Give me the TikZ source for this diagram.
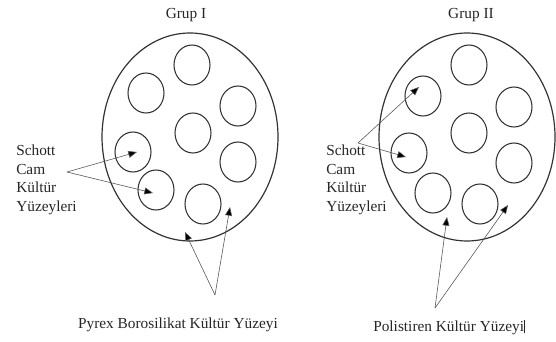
\documentclass[tikz,border=0pt]{standalone}
\usepackage{fontspec}
\setmainfont{Liberation Serif}
\usetikzlibrary{shapes.geometric,arrows.meta}
\begin{document}
\begin{tikzpicture}[x=0.75pt,y=-0.75pt,
  dish/.style={ellipse,draw=black!80,line width=0.9pt,inner sep=0pt,outer sep=0pt,minimum width=132pt,minimum height=156pt},
  well/.style={ellipse,draw=black!80,line width=0.8pt,inner sep=0pt,outer sep=0pt,minimum width=27pt,minimum height=30pt},
  lbl/.style={font=\fontsize{11.5}{14}\selectfont,text=black!85,inner sep=0pt},
  ptr/.style={draw=black!65,line width=0.45pt,-{Triangle[length=6.5pt,width=5.2pt,fill=black]}},
]
\useasboundingbox (0,0) rectangle (556,342);
% Group I
\node[lbl] (t1) at (186,15) {Grup I};
\node[dish] (d1) at (190,137) {};
\node[well] (a1) at (192,65) {};
\node[well] (a2) at (146,93) {};
\node[well] (a3) at (238,106) {};
\node[well] (a4) at (193,133) {};
\node[well] (a5) at (133,152) {};
\node[well] (a6) at (238,162) {};
\node[well] (a7) at (156,190) {};
\node[well] (a8) at (203,204) {};
\node[lbl,anchor=west,align=left] (s1) at (16,180) {Schott\\Cam\\Kültür\\Yüzeyleri};
\coordinate (p1) at (67,172);
\coordinate (p1a) at (137,152);
\coordinate (p1b) at (153,193);
\draw[ptr] (p1) -- (p1a);
\draw[ptr] (p1) -- (p1b);
\node[lbl] (y1) at (178,325) {Pyrex Borosilikat Kültür Yüzeyi};
\coordinate (q1) at (215,295);
\coordinate (q1a) at (185,232);
\coordinate (q1b) at (230,207);
\draw[ptr] (q1) -- (q1a);
\draw[ptr] (q1) -- (q1b);
% Group II
\node[lbl] (t2) at (471,15) {Grup II};
\node[dish] (d2) at (467,137) {};
\node[well] (b1) at (469,65) {};
\node[well] (b2) at (423,96) {};
\node[well] (b3) at (514,107) {};
\node[well] (b4) at (469,133) {};
\node[well] (b5) at (409,153) {};
\node[well] (b6) at (514,163) {};
\node[well] (b7) at (433,193) {};
\node[well] (b8) at (480,204) {};
\node[lbl,anchor=west,align=left] (s2) at (326,180) {Schott\\Cam\\Kültür\\Yüzeyleri};
\coordinate (p2) at (358,143);
\coordinate (p2a) at (419,87);
\coordinate (p2b) at (406,157);
\draw[ptr] (p2) -- (p2a);
\draw[ptr] (p2) -- (p2b);
\node[lbl] (y2) at (449,327) {Polistiren Kültür Yüzeyi\rule[-1.5pt]{0.5pt}{10pt}};
\coordinate (q2) at (435,308);
\coordinate (q2a) at (447,217);
\coordinate (q2b) at (508,205);
\draw[ptr] (q2) -- (q2a);
\draw[ptr] (q2) -- (q2b);
\end{tikzpicture}
\end{document}
